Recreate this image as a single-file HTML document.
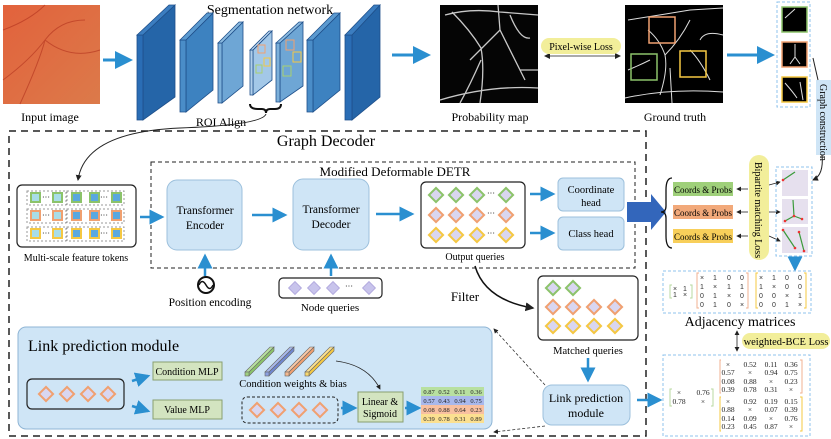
<!DOCTYPE html>
<html><head><meta charset="utf-8"><style>
body{margin:0;background:#fff}
svg{display:block;font-family:"Liberation Serif",serif}
</style></head><body>
<svg width="831" height="439" viewBox="0 0 831 439" xmlns="http://www.w3.org/2000/svg">
<defs>
<marker id="ab" markerWidth="6" markerHeight="6" refX="5" refY="3" orient="auto"><path d="M0,0 L6,3 L0,6 z" fill="#2a8fd0"/></marker>
<marker id="ak" markerWidth="6" markerHeight="6" refX="5" refY="3" orient="auto"><path d="M0,0 L6,3 L0,6 z" fill="#222"/></marker>
<marker id="aks" markerWidth="6" markerHeight="6" refX="1" refY="3" orient="auto"><path d="M6,0 L0,3 L6,6 z" fill="#222"/></marker>
<g id="dg"><rect x="-5" y="-5" width="10" height="10" transform="rotate(45)" fill="#d9d6f0" stroke="#8cc36a" stroke-width="2"/></g>
<g id="do"><rect x="-5" y="-5" width="10" height="10" transform="rotate(45)" fill="#d9d6f0" stroke="#f0a070" stroke-width="2"/></g>
<g id="dy"><rect x="-5" y="-5" width="10" height="10" transform="rotate(45)" fill="#d9d6f0" stroke="#f5c842" stroke-width="2"/></g>
<g id="dl"><rect x="-4.5" y="-4.5" width="9" height="9" transform="rotate(45)" fill="#c8c4ec" stroke="#b4acdf" stroke-width="1"/></g>
<linearGradient id="ret" x1="0" y1="0" x2="1" y2="1"><stop offset="0" stop-color="#e2623c"/><stop offset="1" stop-color="#dc7a4a"/></linearGradient>
</defs>

<!-- input image -->
<rect x="3" y="5" width="97" height="99" fill="url(#ret)"/>
<path d="M3,30 Q30,20 45,5 M20,104 Q40,60 45,40 Q60,20 85,20 M45,40 Q70,60 100,50 M3,80 Q30,60 45,40" stroke="#b0301c" stroke-width="1" fill="none" opacity="0.6"/>
<text x="50" y="121" font-size="12" text-anchor="middle">Input image</text>
<line x1="103" y1="60" x2="130" y2="60" stroke="#2a8fd0" stroke-width="3" marker-end="url(#ab)"/>

<!-- seg network -->
<text x="270" y="14" font-size="14" text-anchor="middle">Segmentation network</text>
<g stroke="#1e4f8a" stroke-width="0.8">
<polygon points="143,35 175,5 175,97 143,120" fill="#2565a8"/><polygon points="137,35 143,35 143,120 137,120" fill="#2a6db5"/><polygon points="137,35 169,5 175,5 143,35" fill="#3b7dc0"/>
<polygon points="186,40 213,13 213,90 186,112" fill="#3d82c0"/><polygon points="180,40 186,40 186,112 180,112" fill="#4a8dc8"/><polygon points="180,40 207,13 213,13 186,40" fill="#5b9ad0"/>
<polygon points="222,43 243,22 243,86 222,103" fill="#6ea6d5"/><polygon points="218,43 222,43 222,103 218,103" fill="#7cb0da"/><polygon points="218,43 239,22 243,22 222,43" fill="#8cbbe0"/>
<polygon points="253,50 272,31 272,80 253,95" fill="#a3c8e8"/><polygon points="250,50 253,50 253,95 250,95" fill="#b0d0ec"/><polygon points="250,50 269,31 272,31 253,50" fill="#bcd7ef"/>
<polygon points="280,43 303,22 303,86 280,102" fill="#6ea6d5"/><polygon points="276,43 280,43 280,102 276,102" fill="#7cb0da"/><polygon points="276,43 299,22 303,22 280,43" fill="#8cbbe0"/>
<polygon points="313,40 340,13 340,90 313,112" fill="#3d82c0"/><polygon points="307,40 313,40 313,112 307,112" fill="#4a8dc8"/><polygon points="307,40 334,13 340,13 313,40" fill="#5b9ad0"/>
<polygon points="352,35 380,5 380,97 352,120" fill="#2565a8"/><polygon points="345,35 352,35 352,120 345,120" fill="#2a6db5"/><polygon points="345,35 374,5 380,5 352,35" fill="#3b7dc0"/>
</g>
<rect x="258" y="45" width="7" height="8" fill="none" stroke="#f0a070"/><rect x="256" y="65" width="6" height="8" fill="none" stroke="#a8d070"/><rect x="264" y="58" width="6" height="8" fill="none" stroke="#f5c842"/>
<rect x="286" y="40" width="8" height="10" fill="none" stroke="#f0a070"/><rect x="283" y="66" width="8" height="10" fill="none" stroke="#a8d070"/><rect x="293" y="52" width="8" height="10" fill="none" stroke="#f5c842"/>
<path d="M250,104 Q250,109 258,109 L262,109 Q266,109 266,113 Q266,109 270,109 L275,109 Q281,109 281,104" fill="none" stroke="#111" stroke-width="2"/>
<text x="221" y="126" font-size="12" text-anchor="middle">ROI Align</text>
<path d="M266,114 Q262,125 180,128 Q85,132 78,180" fill="none" stroke="#222" stroke-width="1" marker-end="url(#ak)"/>
<line x1="392" y1="55" x2="428" y2="55" stroke="#2a8fd0" stroke-width="3" marker-end="url(#ab)"/>

<!-- probability map -->
<rect x="440" y="5" width="98" height="98" fill="#050505"/>
<path d="M445,15 Q470,8 500,12 L538,15 M470,60 Q490,40 500,30 Q510,50 525,80 M480,103 Q485,70 481,48 Q470,30 452,12 M500,30 L498,5 M440,100 Q490,85 538,88 M460,103 Q470,85 481,60 M510,15 Q520,40 530,38 M520,70 L538,70" stroke="#c8c8c8" stroke-width="1.3" fill="none"/>
<text x="490" y="121" font-size="12" text-anchor="middle">Probability map</text>
<line x1="545" y1="56" x2="620" y2="56" stroke="#555" stroke-width="1" marker-end="url(#ak)" marker-start="url(#aks)"/>
<rect x="541" y="38" width="80" height="16" rx="8" fill="#f2ee9a"/>
<text x="581" y="50" font-size="10" text-anchor="middle">Pixel-wise Loss</text>

<!-- ground truth -->
<rect x="625" y="5" width="98" height="98" fill="#000"/>
<path d="M628,20 Q660,15 690,10 L723,8 M660,95 Q668,70 665,55 Q660,40 648,30 M665,55 Q680,40 690,20 M625,98 Q670,88 723,92 M690,50 Q700,60 710,80 M700,40 Q705,30 723,35 M628,70 Q640,65 650,60 M670,68 L672,103" stroke="#ddd" stroke-width="1" fill="none"/>
<rect x="649" y="17" width="26" height="26" fill="none" stroke="#f0a070" stroke-width="1.5"/>
<rect x="631" y="54" width="26" height="26" fill="none" stroke="#8cc36a" stroke-width="1.5"/>
<rect x="680" y="51" width="26" height="26" fill="none" stroke="#f5c842" stroke-width="1.5"/>
<text x="675" y="121" font-size="12" text-anchor="middle">Ground truth</text>
<line x1="727" y1="55" x2="772" y2="55" stroke="#2a8fd0" stroke-width="3" marker-end="url(#ab)"/>

<rect x="777" y="2" width="33" height="105" fill="none" stroke="#8fc3ec" stroke-dasharray="3,2"/>
<rect x="782" y="7" width="25" height="25" fill="#000" stroke="#8cc36a" stroke-width="1.5"/>
<rect x="782" y="42" width="25" height="25" fill="#000" stroke="#f0a070" stroke-width="1.5"/>
<rect x="782" y="77" width="25" height="25" fill="#000" stroke="#f5c842" stroke-width="1.5"/>
<path d="M785,18 L795,9 M795,44 L795,57 L790,64 M795,57 L800,64 M785,83 Q793,92 797,98 M800,82 L803,100" stroke="#ddd" stroke-width="1" fill="none"/>
<rect x="816" y="80" width="15" height="75" fill="#cfe5f6"/>
<text transform="translate(820,84) rotate(90)" font-size="10">Graph construction</text>
<line x1="813" y1="58" x2="818" y2="80" stroke="#222"/>
<path d="M822,155 Q824,175 813,180" fill="none" stroke="#222" marker-end="url(#ak)"/>

<!-- Graph decoder -->
<rect x="9" y="131" width="637" height="305" fill="none" stroke="#222" stroke-width="1.5" stroke-dasharray="7,5"/>
<text x="326" y="146" font-size="16" text-anchor="middle">Graph Decoder</text>
<rect x="151" y="162" width="484" height="106" fill="none" stroke="#222" stroke-width="1" stroke-dasharray="4,3"/>
<text x="395" y="176" font-size="13" text-anchor="middle">Modified Deformable DETR</text>

<!-- multi-scale tokens -->
<rect x="17" y="185" width="119" height="62" rx="5" fill="#fff" stroke="#222" stroke-width="1.2"/>
<g stroke="#999" stroke-dasharray="2,2" fill="none">
<rect x="27" y="191" width="39" height="14"/><rect x="67" y="191" width="57" height="14"/>
<rect x="27" y="209" width="39" height="14"/><rect x="67" y="209" width="57" height="14"/>
<rect x="27" y="227" width="39" height="14"/><rect x="67" y="227" width="57" height="14"/>
</g>
<g stroke-width="2">
<g stroke="#8cc36a"><rect x="31" y="193" width="9" height="9" fill="#a8dde8"/><rect x="53" y="193" width="9" height="9" fill="#a8dde8"/><rect x="72" y="193" width="9" height="9" fill="#5aa8e0"/><rect x="90" y="193" width="9" height="9" fill="#5aa8e0"/><rect x="112" y="193" width="9" height="9" fill="#5aa8e0"/></g>
<g stroke="#f0a070"><rect x="31" y="211" width="9" height="9" fill="#a8dde8"/><rect x="53" y="211" width="9" height="9" fill="#a8dde8"/><rect x="72" y="211" width="9" height="9" fill="#5aa8e0"/><rect x="90" y="211" width="9" height="9" fill="#5aa8e0"/><rect x="112" y="211" width="9" height="9" fill="#5aa8e0"/></g>
<g stroke="#f5c842"><rect x="31" y="229" width="9" height="9" fill="#a8dde8"/><rect x="53" y="229" width="9" height="9" fill="#a8dde8"/><rect x="72" y="229" width="9" height="9" fill="#5aa8e0"/><rect x="90" y="229" width="9" height="9" fill="#5aa8e0"/><rect x="112" y="229" width="9" height="9" fill="#5aa8e0"/></g>
</g>
<g font-size="8"><text x="42" y="200">···</text><text x="100" y="200">···</text><text x="42" y="218">···</text><text x="100" y="218">···</text><text x="42" y="236">···</text><text x="100" y="236">···</text></g>
<text x="76" y="261" font-size="10" text-anchor="middle">Multi-scale feature tokens</text>
<line x1="140" y1="217" x2="162" y2="217" stroke="#2a8fd0" stroke-width="2.5" marker-end="url(#ab)"/>

<rect x="167" y="180" width="75" height="70" rx="10" fill="#cfe5f6" stroke="#9cc0dc"/>
<text x="205" y="214" font-size="11.5" text-anchor="middle">Transformer</text><text x="205" y="229" font-size="11.5" text-anchor="middle">Encoder</text>
<line x1="252" y1="215" x2="285" y2="215" stroke="#2a8fd0" stroke-width="2.5" marker-end="url(#ab)"/>
<rect x="293" y="179" width="76" height="71" rx="10" fill="#cfe5f6" stroke="#9cc0dc"/>
<text x="331" y="213" font-size="11.5" text-anchor="middle">Transformer</text><text x="331" y="228" font-size="11.5" text-anchor="middle">Decoder</text>
<line x1="376" y1="214" x2="412" y2="214" stroke="#2a8fd0" stroke-width="2.5" marker-end="url(#ab)"/>

<!-- position encoding -->
<line x1="205" y1="276" x2="205" y2="256" stroke="#2a8fd0" stroke-width="2.5" marker-end="url(#ab)"/>
<circle cx="206" cy="285" r="8" fill="none" stroke="#111" stroke-width="2"/>
<path d="M199,285 Q202,278 206,285 Q210,292 213,285" fill="none" stroke="#111" stroke-width="1.5"/>
<text x="210" y="306" font-size="11.5" text-anchor="middle">Position encoding</text>
<line x1="331" y1="276" x2="331" y2="256" stroke="#2a8fd0" stroke-width="2.5" marker-end="url(#ab)"/>
<rect x="279" y="278" width="103" height="20" rx="4" fill="#fff" stroke="#222" stroke-width="1.2"/>
<use href="#dl" x="295" y="288"/><use href="#dl" x="314" y="288"/><use href="#dl" x="333" y="288"/><text x="345" y="289" font-size="8">···</text><use href="#dl" x="369" y="288"/>
<text x="330" y="311" font-size="11" text-anchor="middle">Node queries</text>

<!-- output queries -->
<rect x="421" y="182" width="104" height="66" rx="5" fill="#fff" stroke="#222" stroke-width="1.2"/>
<use href="#dg" x="436" y="195"/><use href="#dg" x="456" y="195"/><use href="#dg" x="477" y="195"/><text x="487" y="196" font-size="8">···</text><use href="#dg" x="506" y="195"/>
<use href="#do" x="436" y="215"/><use href="#do" x="456" y="215"/><use href="#do" x="477" y="215"/><text x="487" y="216" font-size="8">···</text><use href="#do" x="506" y="215"/>
<use href="#dy" x="436" y="235"/><use href="#dy" x="456" y="235"/><use href="#dy" x="477" y="235"/><text x="487" y="236" font-size="8">···</text><use href="#dy" x="506" y="235"/>
<text x="475" y="260" font-size="10" text-anchor="middle">Output queries</text>
<line x1="530" y1="194" x2="553" y2="194" stroke="#2a8fd0" stroke-width="2.5" marker-end="url(#ab)"/>
<line x1="530" y1="233" x2="553" y2="233" stroke="#2a8fd0" stroke-width="2.5" marker-end="url(#ab)"/>
<rect x="558" y="178" width="66" height="33" rx="5" fill="#cfe5f6" stroke="#9cc0dc"/>
<text x="591" y="193" font-size="10.5" text-anchor="middle">Coordinate</text><text x="591" y="206" font-size="10.5" text-anchor="middle">head</text>
<rect x="558" y="217" width="66" height="33" rx="5" fill="#cfe5f6" stroke="#9cc0dc"/>
<text x="591" y="237" font-size="10.5" text-anchor="middle">Class head</text>

<!-- big arrow -->
<polygon points="627,202 651,202 651,194 666,212 651,230 651,222 627,222" fill="#3366bb"/>
<path d="M672,178 Q666,178 666,190 L666,206 Q666,212 661,212 Q666,212 666,218 L666,236 Q666,248 672,248" fill="none" stroke="#111" stroke-width="1.3"/>
<rect x="673" y="182" width="60" height="14" fill="#9fd07a"/><text x="703" y="193" font-size="9" text-anchor="middle">Coords &amp; Probs</text>
<rect x="673" y="205" width="60" height="14" fill="#f2a97a"/><text x="703" y="216" font-size="9" text-anchor="middle">Coords &amp; Probs</text>
<rect x="673" y="229" width="60" height="14" fill="#f8cf5a"/><text x="703" y="240" font-size="9" text-anchor="middle">Coords &amp; Probs</text>
<g stroke="#222" stroke-width="0.8">
<line x1="737" y1="189" x2="748" y2="189" marker-start="url(#aks)"/><line x1="737" y1="212" x2="748" y2="212" marker-start="url(#aks)"/><line x1="737" y1="236" x2="748" y2="236" marker-start="url(#aks)"/>
<line x1="769" y1="185" x2="780" y2="182" marker-end="url(#ak)"/><line x1="769" y1="212" x2="780" y2="212" marker-end="url(#ak)"/><line x1="769" y1="236" x2="780" y2="241" marker-end="url(#ak)"/>
</g>
<rect x="749" y="155" width="20" height="105" rx="10" fill="#f2ee9a"/>
<text transform="translate(755,162) rotate(90)" font-size="10">Bipartite matching Loss</text>
<rect x="776" y="167" width="36" height="89" fill="none" stroke="#8fc3ec" stroke-dasharray="3,2"/>
<rect x="782" y="170" width="26" height="26" fill="#e6e0ee"/><rect x="782" y="199" width="26" height="25" fill="#e6e0ee"/><rect x="782" y="227" width="26" height="26" fill="#e6e0ee"/>
<g stroke="#3a9a3a" stroke-width="1.2"><line x1="783" y1="180" x2="795" y2="172"/><line x1="793" y1="200" x2="794" y2="216"/><line x1="794" y1="216" x2="785" y2="221"/><line x1="794" y1="216" x2="802" y2="219"/><line x1="783" y1="230" x2="795" y2="248"/><line x1="799" y1="232" x2="804" y2="251"/></g>
<g fill="#e33"><circle cx="783" cy="180" r="1.3"/><circle cx="794" cy="216" r="1.3"/><circle cx="785" cy="221" r="1.3"/><circle cx="802" cy="219" r="1.3"/><circle cx="783" cy="230" r="1.3"/><circle cx="795" cy="248" r="1.3"/><circle cx="804" cy="251" r="1.3"/><circle cx="799" cy="232" r="1.3"/></g>
<line x1="795" y1="259" x2="795" y2="269" stroke="#2a8fd0" stroke-width="2.5" marker-end="url(#ab)"/>

<!-- adjacency -->
<rect x="663" y="271" width="148" height="42" fill="none" stroke="#8fc3ec" stroke-dasharray="3,2"/>
<g font-size="7" font-family="Liberation Sans,sans-serif" fill="#333" text-anchor="middle">
<path d="M672,285 h-2 v13 h2 M690,285 h2 v13 h-2" stroke="#b8d8a0" fill="none"/>
<text x="675" y="291">×</text><text x="685" y="291">1</text><text x="675" y="297">1</text><text x="685" y="297">×</text>
<path d="M699,273 h-2 v35 h2 M746,273 h2 v35 h-2" stroke="#f0b090" fill="none"/>
<text x="702" y="280">×</text><text x="715" y="280">1</text><text x="729" y="280">0</text><text x="742" y="280">0</text>
<text x="702" y="289">1</text><text x="715" y="289">×</text><text x="729" y="289">1</text><text x="742" y="289">1</text>
<text x="702" y="298">0</text><text x="715" y="298">1</text><text x="729" y="298">×</text><text x="742" y="298">0</text>
<text x="702" y="307">0</text><text x="715" y="307">1</text><text x="729" y="307">0</text><text x="742" y="307">×</text>
<path d="M758,273 h-2 v35 h2 M804,273 h2 v35 h-2" stroke="#f5c842" fill="none"/>
<text x="761" y="280">×</text><text x="774" y="280">1</text><text x="787" y="280">0</text><text x="800" y="280">0</text>
<text x="761" y="289">1</text><text x="774" y="289">×</text><text x="787" y="289">0</text><text x="800" y="289">0</text>
<text x="761" y="298">0</text><text x="774" y="298">0</text><text x="787" y="298">×</text><text x="800" y="298">1</text>
<text x="761" y="307">0</text><text x="774" y="307">0</text><text x="787" y="307">1</text><text x="800" y="307">×</text>
</g>
<text x="740" y="326" font-size="14" text-anchor="middle">Adjacency matrices</text>
<line x1="737" y1="331" x2="737" y2="351" stroke="#222" stroke-width="0.8" marker-end="url(#ak)" marker-start="url(#aks)"/>
<rect x="742" y="333" width="88" height="16" rx="8" fill="#f2ee9a"/>
<text x="786" y="345" font-size="10.5" text-anchor="middle">weighted-BCE Loss</text>

<!-- bottom matrices -->
<rect x="663" y="355" width="147" height="81" fill="none" stroke="#8fc3ec" stroke-dasharray="3,2"/>
<g font-size="7.5" fill="#222" text-anchor="middle">
<path d="M672,389 h-2 v17 h2 M711,389 h2 v17 h-2" stroke="#b8d8a0" fill="none"/>
<text x="679" y="395">×</text><text x="703" y="395">0.76</text><text x="679" y="404">0.78</text><text x="703" y="404">×</text>
<path d="M721,360 h-1 v33 h1 M800,360 h2 v33 h-2" stroke="#f0b090" fill="none"/>
<path d="M721,397 h-1 v34 h1 M800,397 h2 v34 h-2" stroke="#f5c842" fill="none"/>
<text x="728" y="367">×</text><text x="750" y="367">0.52</text><text x="771" y="367">0.11</text><text x="791" y="367">0.36</text>
<text x="728" y="375">0.57</text><text x="750" y="375">×</text><text x="771" y="375">0.94</text><text x="791" y="375">0.75</text>
<text x="728" y="384">0.08</text><text x="750" y="384">0.88</text><text x="771" y="384">×</text><text x="791" y="384">0.23</text>
<text x="728" y="392">0.39</text><text x="750" y="392">0.78</text><text x="771" y="392">0.31</text><text x="791" y="392">×</text>
<text x="728" y="404">×</text><text x="750" y="404">0.92</text><text x="771" y="404">0.19</text><text x="791" y="404">0.15</text>
<text x="728" y="412">0.88</text><text x="750" y="412">×</text><text x="771" y="412">0.07</text><text x="791" y="412">0.39</text>
<text x="728" y="421">0.14</text><text x="750" y="421">0.09</text><text x="771" y="421">×</text><text x="791" y="421">0.76</text>
<text x="728" y="429">0.23</text><text x="750" y="429">0.45</text><text x="771" y="429">0.87</text><text x="791" y="429">×</text>
</g>
<line x1="637" y1="400" x2="660" y2="400" stroke="#2a8fd0" stroke-width="2.5" marker-end="url(#ab)"/>

<!-- matched queries -->
<path d="M475,266 Q485,300 533,308" fill="none" stroke="#111" stroke-width="1.5" marker-end="url(#ak)"/>
<text x="465" y="301" font-size="13" text-anchor="middle">Filter</text>
<rect x="538" y="276" width="100" height="64" rx="5" fill="#fff" stroke="#222" stroke-width="1.2"/>
<use href="#dg" x="553" y="288"/><use href="#dg" x="573" y="288"/>
<use href="#do" x="553" y="307"/><use href="#do" x="573" y="307"/><use href="#do" x="594" y="307"/><use href="#do" x="615" y="307"/>
<use href="#dy" x="553" y="326"/><use href="#dy" x="573" y="326"/><use href="#dy" x="594" y="326"/><use href="#dy" x="615" y="326"/>
<text x="588" y="354" font-size="10.5" text-anchor="middle">Matched queries</text>
<line x1="588" y1="358" x2="588" y2="380" stroke="#2a8fd0" stroke-width="2.5" marker-end="url(#ab)"/>
<rect x="543" y="385" width="87" height="40" rx="9" fill="#cfe5f6" stroke="#9cc0dc"/>
<text x="586" y="402" font-size="12" text-anchor="middle">Link prediction</text><text x="586" y="417" font-size="12" text-anchor="middle">module</text>
<line x1="545" y1="385" x2="494" y2="329" stroke="#333" stroke-width="0.8" stroke-dasharray="3,2" marker-end="url(#ak)"/>
<line x1="545" y1="426" x2="494" y2="432" stroke="#333" stroke-width="0.8" stroke-dasharray="3,2" marker-end="url(#ak)"/>

<!-- link prediction module -->
<rect x="18" y="327" width="474" height="102" rx="8" fill="#cfe5f6" stroke="#8fb5d5"/>
<text x="28" y="351" font-size="16">Link prediction module</text>
<rect x="27" y="379" width="97" height="30" rx="5" fill="none" stroke="#222" stroke-width="1.2"/>
<use href="#do" x="46" y="394"/><use href="#do" x="67" y="394"/><use href="#do" x="88" y="394"/><use href="#do" x="108" y="394"/>
<line x1="132" y1="381" x2="148" y2="376" stroke="#2a8fd0" stroke-width="2.5" marker-end="url(#ab)"/>
<line x1="132" y1="406" x2="148" y2="411" stroke="#2a8fd0" stroke-width="2.5" marker-end="url(#ab)"/>
<rect x="153" y="362" width="69" height="18" fill="#d3e4c0" stroke="#8aa070"/>
<text x="187" y="375" font-size="10" text-anchor="middle">Condition MLP</text>
<rect x="153" y="400" width="69" height="19" fill="#d3e4c0" stroke="#8aa070"/>
<text x="187" y="413" font-size="10" text-anchor="middle">Value MLP</text>
<g stroke="#666" stroke-width="0.6">
<polygon points="245,372 270,347 274,347 249,372" fill="#b8e0a0"/><polygon points="249,372 274,347 274,351 249,376" fill="#8cc36a"/><rect x="245" y="372" width="4" height="4" fill="#a0d080"/>
<polygon points="265,372 290,347 294,347 269,372" fill="#a8b8ec"/><polygon points="269,372 294,347 294,351 269,376" fill="#7088d0"/><rect x="265" y="372" width="4" height="4" fill="#8ca0e0"/>
<polygon points="285,372 310,347 314,347 289,372" fill="#f8c8a8"/><polygon points="289,372 314,347 314,351 289,376" fill="#f0a070"/><rect x="285" y="372" width="4" height="4" fill="#f4b890"/>
<polygon points="305,372 330,347 334,347 309,372" fill="#fbe090"/><polygon points="309,372 334,347 334,351 309,376" fill="#f5c842"/><rect x="305" y="372" width="4" height="4" fill="#f8d870"/>
</g>
<text x="293" y="387" font-size="10.5" text-anchor="middle">Condition weights &amp; bias</text>
<path d="M336,361 Q368,365 380,389" fill="none" stroke="#222" stroke-width="0.8" marker-end="url(#ak)"/>
<rect x="242" y="397" width="96" height="26" rx="5" fill="none" stroke="#222" stroke-dasharray="3,2"/>
<use href="#do" x="257" y="410"/><use href="#do" x="278" y="410"/><use href="#do" x="299" y="410"/><use href="#do" x="320" y="410"/>
<line x1="341" y1="408" x2="355" y2="408" stroke="#2a8fd0" stroke-width="2.5" marker-end="url(#ab)"/>
<rect x="358" y="392" width="45" height="30" fill="#d3e4c0" stroke="#8aa070"/>
<text x="380" y="405" font-size="10" text-anchor="middle">Linear &amp;</text><text x="380" y="417" font-size="10" text-anchor="middle">Sigmoid</text>
<line x1="405" y1="408" x2="419" y2="408" stroke="#2a8fd0" stroke-width="2.5" marker-end="url(#ab)"/>
<rect x="421" y="387" width="63" height="9" fill="#b8e0a0"/><rect x="421" y="396" width="63" height="9" fill="#a8b8ec"/><rect x="421" y="405" width="63" height="9" fill="#f8c0a0"/><rect x="421" y="414" width="63" height="9" fill="#fbe090"/>
<g font-size="6.5" fill="#222" text-anchor="middle">
<text x="429" y="394">0.87</text><text x="444" y="394">0.52</text><text x="460" y="394">0.11</text><text x="476" y="394">0.36</text>
<text x="429" y="403">0.57</text><text x="444" y="403">0.43</text><text x="460" y="403">0.94</text><text x="476" y="403">0.75</text>
<text x="429" y="412">0.08</text><text x="444" y="412">0.88</text><text x="460" y="412">0.64</text><text x="476" y="412">0.23</text>
<text x="429" y="421">0.39</text><text x="444" y="421">0.78</text><text x="460" y="421">0.31</text><text x="476" y="421">0.89</text>
</g>
</svg>
</body></html>
